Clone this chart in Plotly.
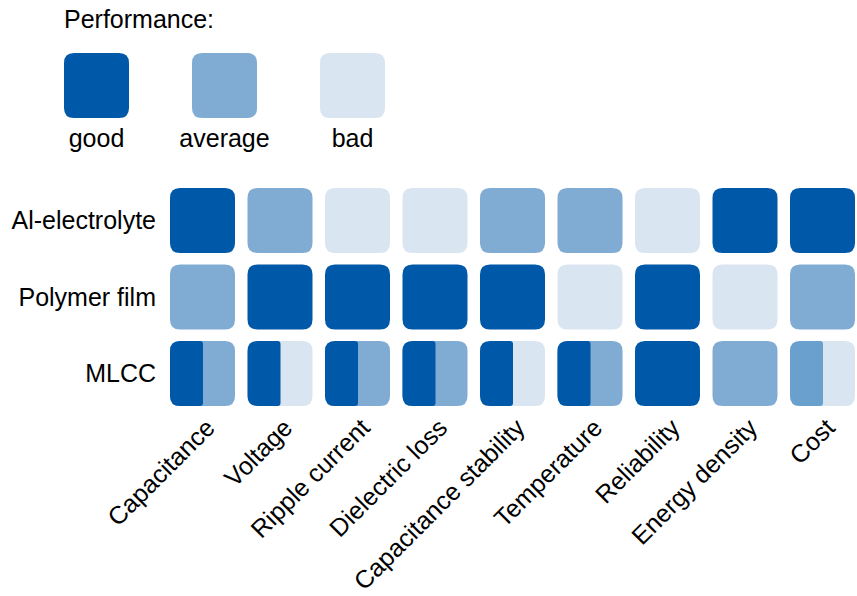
import plotly.graph_objects as go

# Capacitor technologies compared across properties
properties = ["Capacitance", "Voltage", "Ripple current", "Dielectric loss",
              "Capacitance stability", "Temperature", "Reliability",
              "Energy density", "Cost"]
technologies = ["Al-electrolyte", "Polymer film", "MLCC"]

# Rating per property (left part of a split cell; None = single rating)
al_electrolyte = ["good", "average", "bad", "bad", "average", "average", "bad", "good", "good"]
polymer_film = ["average", "good", "good", "good", "good", "bad", "good", "bad", "average"]
mlcc = ["average", "bad", "average", "average", "bad", "average", "good", "average", "bad"]
mlcc_left = ["good", "good", "good", "good", "good", "good", None, None, "average+"]

legend_levels = ["good", "average", "bad"]

colors = {
    "good": "#0058a8",
    "average": "#80abd3",
    "bad": "#d9e5f1",
    "average+": "#6aa0cd",
}

W, H = 857, 596
PX_X, PX_Y = 77.5, 76.5          # pixels per data unit in the main grid
HX, HY = 32.5 / PX_X, 32.5 / PX_Y  # half cell size
R = 10                            # corner radius, px


def rounded_path(x0, x1, y0, y1, rxl, ryl, rxr, ryr):
    return (f"M {x0 + rxl},{y0} L {x1 - rxr},{y0} Q {x1},{y0} {x1},{y0 + ryr} "
            f"L {x1},{y1 - ryr} Q {x1},{y1} {x1 - rxr},{y1} "
            f"L {x0 + rxl},{y1} Q {x0},{y1} {x0},{y1 - ryl} "
            f"L {x0},{y0 + ryl} Q {x0},{y0} {x0 + rxl},{y0} Z")


shapes = []
rows = [al_electrolyte, polymer_film, mlcc]
for r, row in enumerate(rows):
    for c, level in enumerate(row):
        shapes.append(dict(
            type="path", xref="x", yref="y", layer="above",
            path=rounded_path(c - HX, c + HX, r - HY, r + HY,
                              R / PX_X, R / PX_Y, R / PX_X, R / PX_Y),
            fillcolor=colors[level], line=dict(width=0)))

# Split cells in the MLCC row: left part overlays the full cell
r = 2
for c, level in enumerate(mlcc_left):
    if level is None:
        continue
    x0 = c - HX
    x1 = x0 + 33 / PX_X
    shapes.append(dict(
        type="path", xref="x", yref="y", layer="above",
        path=rounded_path(x0, x1, r - HY, r + HY,
                          R / PX_X, R / PX_Y, 3 / PX_X, 3 / PX_Y),
        fillcolor=colors[level], line=dict(width=0)))

# Legend squares
LX, LY = 128.0, 91.0
for i, level in enumerate(legend_levels):
    shapes.append(dict(
        type="path", xref="x2", yref="y2", layer="above",
        path=rounded_path(i - 32.5 / LX, i + 32.5 / LX, -32.5 / LY, 32.5 / LY,
                          R / LX, R / LY, R / LX, R / LY),
        fillcolor=colors[level], line=dict(width=0)))

fig = go.Figure()
fig.add_trace(go.Scatter(x=list(range(len(properties))), y=[0] * len(properties),
                         mode="markers", marker=dict(opacity=0), hoverinfo="skip",
                         showlegend=False))
fig.add_trace(go.Scatter(x=list(range(len(legend_levels))), y=[0] * len(legend_levels),
                         xaxis="x2", yaxis="y2",
                         mode="markers", marker=dict(opacity=0), hoverinfo="skip",
                         showlegend=False))

font = dict(family="Liberation Sans, Arial, sans-serif", size=25, color="#000000")

x_left_px, y_top_px, y_bot_px = 160, 175, 420
fig.update_layout(
    width=W, height=H,
    margin=dict(l=0, r=0, t=0, b=0),
    paper_bgcolor="white", plot_bgcolor="white",
    font=font,
    shapes=shapes,
    xaxis=dict(
        domain=[x_left_px / W, 1],
        range=[(x_left_px - 202.5) / PX_X, (W - 202.5) / PX_X],
        tickvals=list(range(len(properties))), ticktext=properties,
        tickangle=-45, showgrid=False, zeroline=False, showline=False,
        ticks="", automargin=False, fixedrange=True, anchor="y",
        ticklabelstandoff=-13, ticklabelshift=5,
    ),
    yaxis=dict(
        domain=[(H - y_bot_px) / H, (H - y_top_px) / H],
        range=[2 + (y_bot_px - 373.5) / PX_Y, -(220.5 - y_top_px) / PX_Y],
        tickvals=list(range(len(technologies))), ticktext=technologies,
        showgrid=False, zeroline=False, showline=False, ticks="",
        automargin=False, fixedrange=True, anchor="x",
        ticklabelstandoff=3,
    ),
    xaxis2=dict(
        domain=[0, 448 / W],
        range=[-96.5 / LX, -96.5 / LX + 448 / LX],
        tickvals=list(range(len(legend_levels))), ticktext=legend_levels,
        showgrid=False, zeroline=False, showline=False, ticks="",
        automargin=False, fixedrange=True, anchor="y2",
    ),
    yaxis2=dict(
        domain=[(H - 121) / H, (H - 50) / H],
        range=[71 / LY / 2, -71 / LY / 2],
        showticklabels=False, showgrid=False, zeroline=False, showline=False,
        automargin=False, fixedrange=True, anchor="x2",
    ),
    annotations=[dict(text="Performance:", xref="paper", yref="paper",
                      x=62 / W, y=(H - 19) / H, xanchor="left", yanchor="middle",
                      showarrow=False, font=font)],
)

fig.write_html("out.html")
